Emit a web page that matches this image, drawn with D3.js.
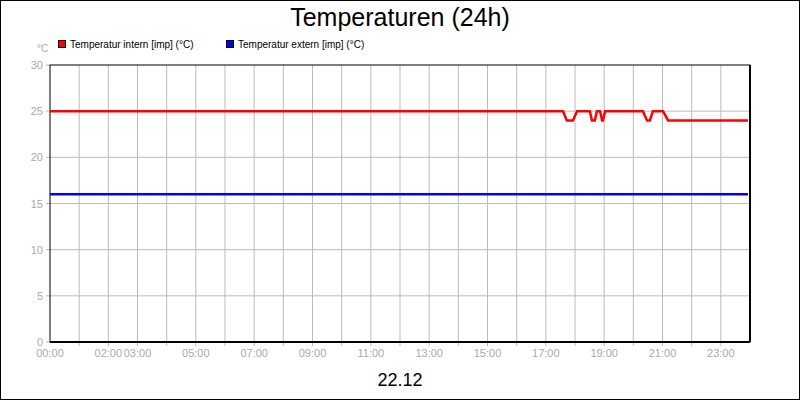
<!DOCTYPE html>
<html><head><meta charset="utf-8">
<script src="https://cdn.jsdelivr.net/npm/d3@7"></script>
<style>body{margin:0}svg{font-family:"Liberation Sans",Arial,sans-serif}</style>
</head><body><div id="container"></div>
<script>
// hours since 00:00
const internTimes = [0, 17.59, 17.72, 17.93, 18.07, 18.51, 18.58, 18.68, 18.75, 18.86, 18.93, 18.96, 19.03, 20.33, 20.47, 20.57, 20.67, 21.02, 21.19, 23.93];
const internValues = [25, 25, 24, 24, 25, 25, 24, 24, 25, 25, 24, 24, 25, 25, 24, 24, 25, 25, 24, 24];
const externTimes = [0, 23.93];
const externValues = [16, 16];
const yTicks = [0, 5, 10, 15, 20, 25, 30];
const xLabels = { 0: '00:00', 2: '02:00', 3: '03:00', 5: '05:00', 7: '07:00', 9: '09:00', 11: '11:00', 13: '13:00', 15: '15:00', 17: '17:00', 19: '19:00', 21: '21:00', 23: '23:00' };

const W = 800, H = 400;
const svg = d3.select('#container').append('svg').attr('width', W).attr('height', H);
svg.append('rect').attr('x', 0.5).attr('y', 0.5).attr('width', W - 1).attr('height', H - 1).attr('fill', '#fff').attr('stroke', '#000');

const x = d3.scaleLinear().domain([0, 24]).range([50, 750]);
const y = d3.scaleLinear().domain([0, 30]).range([342, 65]);

// grid
svg.append('g').selectAll('line').data(d3.range(1, 24)).join('line')
  .attr('x1', d => x(d)).attr('x2', d => x(d)).attr('y1', 65).attr('y2', 346)
  .attr('stroke', '#bbb');
svg.append('g').selectAll('line').data(yTicks.slice(1, -1)).join('line')
  .attr('x1', 46).attr('x2', 750).attr('y1', d => y(d)).attr('y2', d => y(d))
  .attr('stroke', '#bbb');
svg.append('line').attr('x1', 46).attr('x2', 50).attr('y1', y(0)).attr('y2', y(0)).attr('stroke', '#bbb');
svg.append('line').attr('x1', 46).attr('x2', 50).attr('y1', y(30)).attr('y2', y(30)).attr('stroke', '#bbb');

// frame
svg.append('rect').attr('x', 50).attr('y', 65).attr('width', 700).attr('height', 277)
  .attr('fill', 'none').attr('stroke', '#000').attr('stroke-width', 1);
svg.append('line').attr('x1', 750).attr('x2', 750).attr('y1', 65).attr('y2', 342).attr('stroke', '#000').attr('stroke-width', 2);
svg.append('line').attr('x1', 50).attr('x2', 750).attr('y1', 342).attr('y2', 342).attr('stroke', '#000').attr('stroke-width', 2);

// tick labels
svg.append('g').selectAll('text').data(yTicks).join('text')
  .attr('x', 43).attr('y', d => y(d) + 4).attr('text-anchor', 'end')
  .attr('font-size', 11).attr('fill', '#aaa').text(d => d);
svg.append('g').selectAll('text').data(Object.keys(xLabels).map(Number)).join('text')
  .attr('x', d => x(d)).attr('y', 357).attr('text-anchor', 'middle')
  .attr('font-size', 11).attr('fill', '#aaa').text(d => xLabels[d]);

// lines
const line = d3.line().x(d => x(d[0])).y(d => y(d[1]));
svg.append('path').datum(internTimes.map((t, i) => [t, internValues[i]]))
  .attr('d', line).attr('fill', 'none').attr('stroke', '#f00').attr('stroke-width', 2.5);
svg.append('path').datum(externTimes.map((t, i) => [t, externValues[i]]))
  .attr('d', line).attr('fill', 'none').attr('stroke', '#00f').attr('stroke-width', 2.5);

// title, unit, date
svg.append('text').attr('x', 400).attr('y', 26).attr('text-anchor', 'middle').attr('font-size', 25).text('Temperaturen (24h)');
svg.append('text').attr('x', 37).attr('y', 52).attr('font-size', 10).attr('fill', '#aaa').text('°C');
svg.append('text').attr('x', 400).attr('y', 386).attr('text-anchor', 'middle').attr('font-size', 18).text('22.12');

// legend
const legend = [{ name: 'Temperatur intern [imp] (°C)', color: '#f00', x: 58 }, { name: 'Temperatur extern [imp] (°C)', color: '#00f', x: 226 }];
legend.forEach(l => {
  svg.append('rect').attr('x', l.x + 0.5).attr('y', 40.5).attr('width', 7).attr('height', 7).attr('fill', l.color).attr('stroke', '#000');
  svg.append('text').attr('x', l.x + 12).attr('y', 48).attr('font-size', 10).text(l.name);
});
</script></body></html>
